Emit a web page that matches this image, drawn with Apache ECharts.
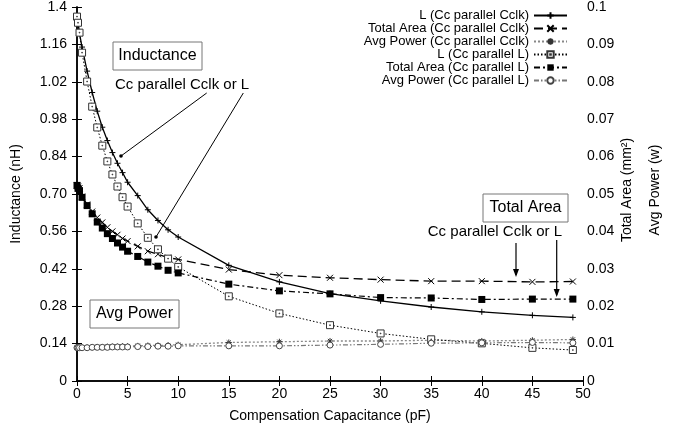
<!DOCTYPE html>
<html><head><meta charset="utf-8">
<script src="https://cdn.jsdelivr.net/npm/echarts@6/dist/echarts.min.js"></script>
<style>html,body{margin:0;padding:0;background:#fff}#c{width:689px;height:434px}</style>
</head><body><div id="c"></div>
<script>
var capacitance = [0,0.1,0.25,0.5,1,1.5,2,2.5,3,3.5,4,4.5,5,6,7,8,9,10,15,20,25,30,35,40,45,49];
var indCclk = [1.36,1.34,1.30,1.25,1.16,1.08,1.01,0.95,0.90,0.855,0.815,0.78,0.744,0.694,0.641,0.601,0.566,0.539,0.433,0.371,0.327,0.300,0.277,0.259,0.246,0.238];
var areaCclk = [0.0523,0.0520,0.0515,0.0493,0.0472,0.0453,0.0437,0.0424,0.0411,0.0400,0.0391,0.0381,0.0374,0.0360,0.0347,0.0339,0.0330,0.0325,0.0298,0.0283,0.0276,0.0271,0.0267,0.0267,0.0265,0.0266];
var powerCclk = [0.0089,0.0089,0.0089,0.0090,0.0090,0.0090,0.0091,0.0091,0.0092,0.0092,0.0092,0.0093,0.0093,0.0094,0.0095,0.0095,0.0096,0.0097,0.0103,0.0105,0.0107,0.0107,0.0109,0.0107,0.0109,0.0111];
var indL = [1.364,1.341,1.304,1.229,1.121,1.027,0.949,0.881,0.822,0.773,0.728,0.688,0.653,0.590,0.536,0.493,0.458,0.427,0.317,0.253,0.209,0.178,0.156,0.141,0.124,0.116];
var areaL = [0.0523,0.0515,0.0509,0.0491,0.0469,0.0447,0.0425,0.0409,0.0394,0.0381,0.0369,0.0358,0.0347,0.0333,0.0318,0.0307,0.0296,0.0289,0.0259,0.0241,0.0233,0.0223,0.0222,0.0218,0.0219,0.0219];
var powerL = [0.0089,0.0089,0.0089,0.0089,0.0089,0.0090,0.0090,0.0090,0.0090,0.0091,0.0091,0.0091,0.0091,0.0092,0.0092,0.0093,0.0093,0.0094,0.0094,0.0094,0.0096,0.0098,0.0101,0.0102,0.0103,0.0102];
var leftTickLabels = ['0','0.14','0.28','0.42','0.56','0.70','0.84','0.98','1.02','1.16','1.4'];
var rightTickLabels = ['0','0.01','0.02','0.03','0.04','0.05','0.06','0.07','0.08','0.09','0.1'];
var seriesNames = ['L (Cc parallel Cclk)','Total Area (Cc parallel Cclk)','Avg Power (Cc parallel Cclk)','L (Cc parallel L)','Total Area (Cc parallel L)','Avg Power (Cc parallel L)'];

function pairs(ys){ return capacitance.map(function(x,i){return [x, ys[i]];}); }
var FONT = 'Liberation Sans, Arial, sans-serif';
var PLUS = 'path://M0,5L10,5M5,0L5,10';
var CROSS = 'path://M0,0L10,10M10,0L0,10';
var STAR = 'path://M0,5L10,5M5,0L5,10M1.5,1.5L8.5,8.5M8.5,1.5L1.5,8.5';
var SQDOT = 'path://M0,0L10,0L10,10L0,10Z M4.5,4.5L5.5,4.5L5.5,5.5L4.5,5.5Z';

function axisCommon(){ return {
  axisLine:{show:true,lineStyle:{color:'#000',width:1.5}},
  axisTick:{show:true,inside:true,length:5,lineStyle:{color:'#000',width:1}},
  splitLine:{show:false},
  axisLabel:{color:'#000',fontSize:14,fontFamily:FONT}
};}

var chart = echarts.init(document.getElementById('c'), null, {renderer:'canvas'});
var x0 = axisCommon(), x1 = axisCommon(), y0 = axisCommon(), y1 = axisCommon();
Object.assign(x0,{type:'value',min:0,max:50,interval:5,position:'bottom',
  name:'Compensation Capacitance (pF)',nameLocation:'middle',nameGap:28,
  nameTextStyle:{color:'#000',fontSize:14,fontFamily:FONT}});
x0.axisLabel.margin = 6;
Object.assign(x1,{type:'value',min:0,max:50,interval:5,position:'top'});
x1.axisLabel = {show:false};
Object.assign(y0,{type:'value',min:0,max:1.4,interval:0.14,position:'left',
  name:'Inductance (nH)',nameLocation:'middle',nameGap:54,
  nameTextStyle:{color:'#000',fontSize:14,fontFamily:FONT}});
y0.axisLabel.formatter = function(v){ return leftTickLabels[Math.round(v/0.14)]; };
y0.axisLabel.margin = 10;
Object.assign(y1,{type:'value',min:0,max:0.1,interval:0.01,position:'right'});
y1.axisLabel.formatter = function(v){ return rightTickLabels[Math.round(v/0.01)]; };
y1.axisLabel.margin = 4;

function mk(name, data, yIdx, lineStyle, symbol, size, itemStyle){
  return {name:name,type:'line',xAxisIndex:0,yAxisIndex:yIdx,data:pairs(data),
    symbol:symbol,symbolSize:size,showSymbol:true,lineStyle:lineStyle,itemStyle:itemStyle,
    emphasis:{disabled:true}};
}

var series = [
  mk(seriesNames[0], indCclk, 0, {color:'#000',width:1.3,type:'solid'}, PLUS, 6, {color:'#000',borderColor:'#000',borderWidth:1}),
  mk(seriesNames[1], areaCclk, 1, {color:'#000',width:1.3,type:[9,5]}, CROSS, 6, {color:'#000',borderColor:'#000',borderWidth:1}),
  mk(seriesNames[2], powerCclk, 1, {color:'#888',width:1.3,type:[2,2]}, STAR, 6, {color:'#333',borderColor:'#333',borderWidth:1}),
  mk(seriesNames[3], indL, 0, {color:'#000',width:1,type:[1.5,2]}, SQDOT, 7, {color:'#fff',borderColor:'#333',borderWidth:1}),
  mk(seriesNames[4], areaL, 1, {color:'#000',width:1.2,type:[6,3,2,3]}, 'rect', 7, {color:'#000',borderColor:'#000',borderWidth:0}),
  mk(seriesNames[5], powerL, 1, {color:'#777',width:1.2,type:[5,2,1.5,2,1.5,2]}, 'circle', 6, {color:'#fff',borderColor:'#444',borderWidth:1})
];

function arrowDown(x, y1_, y2_){
  return [
    {type:'line',shape:{x1:x,y1:y1_,x2:x,y2:y2_-2},style:{stroke:'#000',lineWidth:1.2}},
    {type:'polygon',shape:{points:[[x-3,y2_-8],[x+3,y2_-8],[x,y2_]]},style:{fill:'#000'}}
  ];
}

var graphics = [
  {type:'rect',shape:{x:113,y:42,width:89,height:28},style:{fill:'#fff',stroke:'#777',lineWidth:1},z:10},
  {type:'text',x:157.5,y:56,style:{text:'Inductance',font:'16px '+FONT,fill:'#000',textAlign:'center',textVerticalAlign:'middle'},z:11},
  {type:'text',x:115,y:85,style:{text:'Cc parallel Cclk or L',font:'15px '+FONT,fill:'#000',textAlign:'left',textVerticalAlign:'middle'},z:11},
  {type:'line',shape:{x1:206.7,y1:93,x2:121,y2:156},style:{stroke:'#000',lineWidth:1},z:11},
  {type:'circle',shape:{cx:121,cy:156,r:1.8},style:{fill:'#000'},z:11},
  {type:'line',shape:{x1:243.3,y1:93,x2:156,y2:237},style:{stroke:'#000',lineWidth:1},z:11},
  {type:'circle',shape:{cx:156,cy:237,r:1.8},style:{fill:'#000'},z:11},
  {type:'rect',shape:{x:90,y:300,width:89,height:28},style:{fill:'#fff',stroke:'#777',lineWidth:1},z:10},
  {type:'text',x:134.5,y:314,style:{text:'Avg Power',font:'16px '+FONT,fill:'#000',textAlign:'center',textVerticalAlign:'middle'},z:11},
  {type:'rect',shape:{x:483,y:194,width:85,height:28},style:{fill:'#fff',stroke:'#777',lineWidth:1},z:10},
  {type:'text',x:525.5,y:208,style:{text:'Total Area',font:'16px '+FONT,fill:'#000',textAlign:'center',textVerticalAlign:'middle'},z:11},
  {type:'text',x:562,y:232,style:{text:'Cc parallel Cclk or L',font:'15px '+FONT,fill:'#000',textAlign:'right',textVerticalAlign:'middle'},z:11},
  {type:'text',x:627,y:190,rotation:Math.PI/2,style:{text:'Total Area (mm²)',font:'14px '+FONT,fill:'#000',textAlign:'center',textVerticalAlign:'middle'},z:11},
  {type:'text',x:655,y:190,rotation:Math.PI/2,style:{text:'Avg Power (w)',font:'14px '+FONT,fill:'#000',textAlign:'center',textVerticalAlign:'middle'},z:11}
].concat(arrowDown(516,243,277)).concat(arrowDown(556.7,240,297));

chart.setOption({
  animation:false,
  backgroundColor:'#fff',
  grid:{left:77,right:106,top:6,bottom:53,containLabel:false},
  xAxis:[x0,x1],
  yAxis:[y0,y1],
  legend:{data:seriesNames,orient:'vertical',right:121,top:7,align:'right',
    itemWidth:33,itemHeight:8,itemGap:0,
    textStyle:{fontSize:13,fontFamily:FONT,color:'#000'},
    backgroundColor:'#fff', padding:[2,0,2,2]},
  series:series,
  graphic:graphics
});
</script></body></html>
